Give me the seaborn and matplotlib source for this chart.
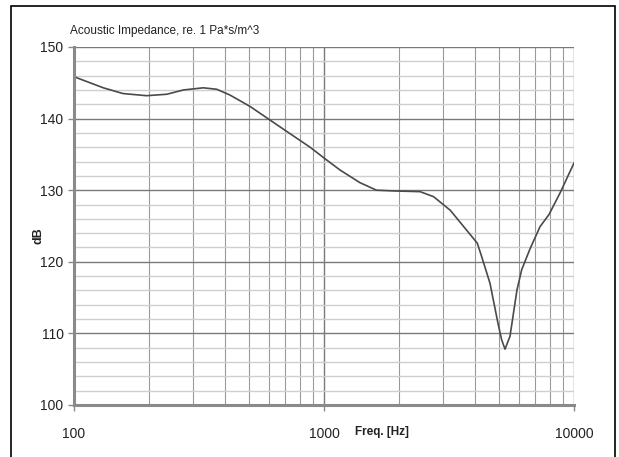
import numpy as np
import pandas as pd
import matplotlib
matplotlib.use("Agg")
import matplotlib.pyplot as plt
import seaborn as sns
from matplotlib.ticker import FixedLocator, NullFormatter, MultipleLocator
from matplotlib.patches import Rectangle

freq_hz = [100, 131, 157, 195, 235, 274, 329, 372, 420, 506, 608, 731, 880,
           1000, 1161, 1393, 1622, 1892, 2421, 2742, 3199, 3623, 4104, 4275,
           4613, 4966, 5136, 5297, 5546, 5916, 6177, 6668, 7311, 7943, 8790,
           10000]
impedance_db = [145.85, 144.3, 143.5, 143.2, 143.4, 144.0, 144.3, 144.1, 143.3,
                141.7, 139.8, 137.9, 136.0, 134.5, 132.8, 131.05, 130.0, 129.9,
                129.8, 129.1, 127.2, 124.9, 122.6, 120.7, 117.0, 111.4, 109.1,
                107.8, 109.6, 116.1, 118.9, 121.8, 124.9, 126.6, 129.6, 133.8]

title_text = "Acoustic Impedance, re. 1 Pa*s/m^3"
x_label = "Freq. [Hz]"
y_label = "dB"
x_ticks = [100, 1000, 10000]
y_ticks = [100, 110, 120, 130, 140, 150]

df = pd.DataFrame({"freq": freq_hz, "z": impedance_db})

sns.set_theme(style="white")
plt.rcParams["font.family"] = ["Liberation Sans", "DejaVu Sans"]

fig = plt.figure(figsize=(6.19, 4.57), dpi=100)
ax = fig.add_axes([74 / 619, 1 - 405 / 457, (574 - 74) / 619, (405 - 47) / 457])

sns.lineplot(data=df, x="freq", y="z", ax=ax, color="#4a4a4a", linewidth=1.2)
ax.set_xscale("log")
ax.set_xlim(100, 10000)
ax.set_ylim(100, 150)

ax.xaxis.set_major_locator(FixedLocator(x_ticks))
ax.set_xticklabels([str(t) for t in x_ticks])
minor_x = [m * d for d in (100, 1000) for m in range(2, 10)]
ax.xaxis.set_minor_locator(FixedLocator(minor_x))
ax.xaxis.set_minor_formatter(NullFormatter())
ax.yaxis.set_major_locator(FixedLocator(y_ticks))
ax.yaxis.set_minor_locator(MultipleLocator(2))

ax.grid(which="major", axis="both", color="#7a7a7a", linewidth=1.0)
ax.grid(which="minor", axis="x", color="#9a9a9a", linewidth=0.8)
ax.grid(which="minor", axis="y", color="#cfcfcf", linewidth=1.0)
ax.set_axisbelow(True)

for s in ("top", "right"):
    ax.spines[s].set_visible(False)
for s in ("left", "bottom"):
    ax.spines[s].set_color("#8a8a8a")
    ax.spines[s].set_linewidth(2.2)

ax.tick_params(axis="both", which="major", length=4, width=1, color="#8a8a8a",
               labelsize=10, labelcolor="#222222", direction="out", bottom=True, left=True)
ax.tick_params(axis="x", which="major", pad=12)
ax.tick_params(axis="both", which="minor", length=0)

ax.set_xlabel("")
ax.set_ylabel("")
fig.text(70 / 619, 1 - 31 / 457, title_text, fontsize=8.5, color="#222222",
         ha="left", va="center")
fig.text(355 / 619, 1 - 432 / 457, x_label, fontsize=8.5, color="#222222",
         ha="left", va="center", fontweight="bold")
fig.text(38 / 619, 1 - 236 / 457, y_label, fontsize=9, color="#222222",
         ha="center", va="center", rotation=90, fontweight="bold")

fig.patches.append(Rectangle((11 / 619, -0.05), (615 - 11) / 619, 1 - 6 / 457 + 0.05,
                             transform=fig.transFigure, fill=False,
                             edgecolor="black", linewidth=1.2))

fig.savefig("out.png", dpi=100)
